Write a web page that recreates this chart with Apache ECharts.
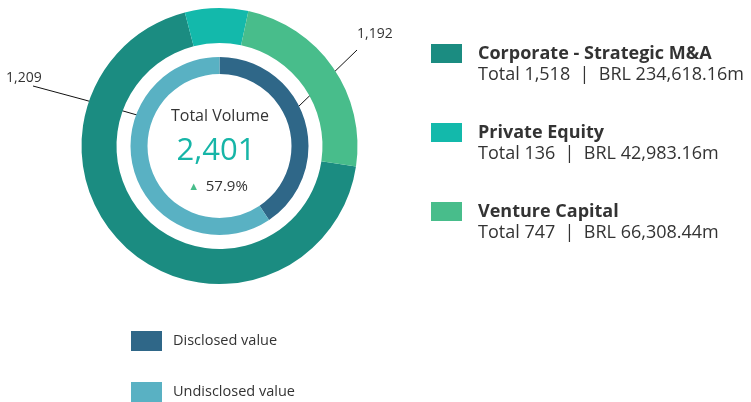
<!DOCTYPE html>
<html>
<head>
<meta charset="utf-8">
<script src="https://cdn.jsdelivr.net/npm/echarts@6/dist/echarts.min.js"></script>
<style>
  html, body { margin: 0; padding: 0; background: #fff; }
  #chart { width: 751px; height: 402px; }
</style>
</head>
<body>
<div id="chart"></div>
<script>
// outer ring: deal type
var typeNames = ['Corporate - Strategic M&A', 'Private Equity', 'Venture Capital'];
var typeTotals = [1518, 136, 747];
var typeBrl = ['234,618.16', '42,983.16', '66,308.44'];
var typeShare = [68.6, 7.4, 24.0]; // arc share as drawn (%)
var typeColors = ['#1b8c81', '#13b9ab', '#48bd8b'];

// inner ring: value disclosure
var valueNames = ['Disclosed value', 'Undisclosed value'];
var valueCounts = [1192, 1209];
var valueShare = [40.6, 59.4]; // arc share as drawn (%)
var valueColors = ['#2f6788', '#59b1c3'];

var totalVolume = 2401;
var growthPct = 57.9;

var FONT = '"Open Sans", "Noto Sans", sans-serif';
var fmt = function (n) { return n.toLocaleString('en-US'); };

var chart = echarts.init(document.getElementById('chart'), null, { renderer: 'canvas' });

var option = {
  animation: false,
  color: typeColors.concat(valueColors),
  textStyle: { fontFamily: FONT },
  legend: [
    {
      data: typeNames,
      orient: 'vertical',
      left: 431,
      top: 22,
      padding: 0,
      height: 300,
      icon: 'rect',
      itemWidth: 31,
      itemHeight: 19,
      itemGap: 16,
      selectedMode: false,
      formatter: function (name) {
        var i = typeNames.indexOf(name);
        return '{e| }\n{t|' + name + '}\n{s|Total ' + fmt(typeTotals[i]) + '  |  BRL ' + typeBrl[i] + 'm}';
      },
      textStyle: {
        fontFamily: FONT, lineHeight: 21, color: '#333',
        padding: [0, 0, 0, 11],
        rich: {
          e: { fontSize: 18, lineHeight: 21 },
          t: { fontFamily: FONT, fontSize: 18, fontWeight: 'bold', color: '#333', lineHeight: 21 },
          s: { fontFamily: FONT, fontSize: 18, color: '#333', lineHeight: 21 }
        }
      }
    },
    {
      data: valueNames,
      orient: 'vertical',
      left: 131,
      top: 331,
      padding: 0,
      height: 120,
      icon: 'rect',
      itemWidth: 31,
      itemHeight: 20,
      itemGap: 31,
      selectedMode: false,
      textStyle: { fontFamily: FONT, fontSize: 14.5, color: '#333', padding: [0, 0, 0, 6] }
    }
  ],
  graphic: [
    {
      type: 'text',
      style: {
        text: 'Total Volume', x: 220, y: 116, align: 'center', verticalAlign: 'middle',
        font: '16px ' + FONT, fill: '#333'
      }
    },
    {
      type: 'text',
      style: {
        text: fmt(totalVolume), x: 216, y: 151, align: 'center', verticalAlign: 'middle',
        font: '31px ' + FONT, fill: '#16b5a7'
      }
    },
    {
      type: 'text',
      style: {
        text: '{tri|▲}  {p|' + growthPct.toFixed(1) + '%}', x: 218, y: 187,
        align: 'center', verticalAlign: 'middle',
        rich: {
          tri: { fontSize: 11, fill: '#48bd8b', color: '#48bd8b' },
          p: { fontSize: 15, fontFamily: FONT, fill: '#333', color: '#333' }
        }
      }
    }
  ],
  series: [
    {
      name: 'Deal type',
      type: 'pie',
      center: [219.5, 146],
      radius: [103, 138],
      startAngle: -8.5,
      clockwise: true,
      silent: true,
      label: { show: false },
      labelLine: { show: false },
      itemStyle: { borderWidth: 0 },
      data: typeNames.map(function (n, i) {
        return { name: n, value: typeShare[i], itemStyle: { color: typeColors[i] } };
      })
    },
    {
      name: 'Value',
      type: 'pie',
      center: [219.5, 146],
      radius: [72, 89],
      startAngle: 90,
      clockwise: true,
      silent: true,
      itemStyle: { borderWidth: 0 },
      label: {
        show: true,
        position: 'outside',
        fontFamily: FONT,
        fontSize: 14,
        color: '#333',
        formatter: function (p) { return fmt(valueCounts[p.dataIndex]); }
      },
      labelLine: {
        show: true,
        length: 20,
        length2: 0,
        lineStyle: { color: '#111', width: 1 }
      },
      // leader lines run straight from the ring edge to the label
      labelLayout: function (p) {
        if (p.dataIndex === 0) {
          return { x: 357, y: 34, align: 'left', verticalAlign: 'middle',
                   labelLinePoints: [[298, 107], [327, 79], [357, 50]] };
        }
        return { x: 6, y: 78, align: 'left', verticalAlign: 'middle',
                 labelLinePoints: [[137, 115], [85, 100], [33, 86]] };
      },
      data: valueNames.map(function (n, i) {
        return { name: n, value: valueShare[i], itemStyle: { color: valueColors[i] } };
      })
    }
  ]
};

chart.setOption(option);
</script>
</body>
</html>
